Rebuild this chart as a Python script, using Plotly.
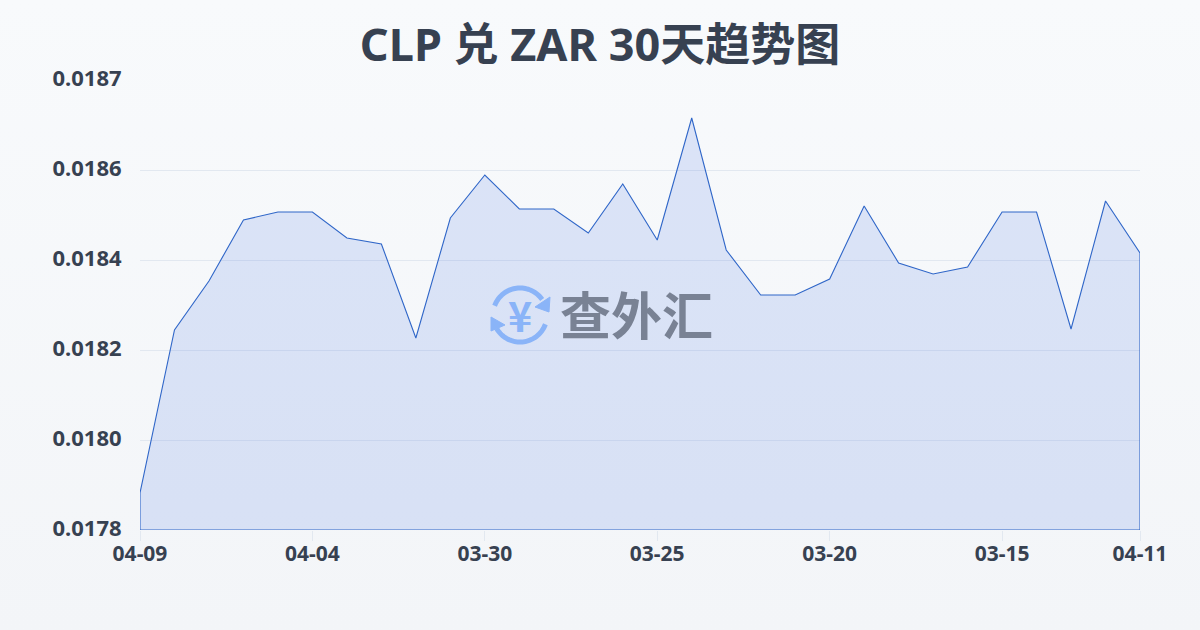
import math
import plotly.graph_objects as go

dates = ["04-09","04-08","04-07","04-06","04-05","04-04","04-03","04-02","04-01","03-31",
         "03-30","03-29","03-28","03-27","03-26","03-25","03-24","03-23","03-22","03-21",
         "03-20","03-19","03-18","03-17","03-16","03-15","03-14","03-13","03-12","04-11"]
rates = [0.017914,0.01824,0.018338,0.01846,0.018476,0.018476,0.018424,0.018412,0.018224,0.018464,
         0.01855,0.018482,0.018482,0.018434,0.018532,0.01842,0.018664,0.0184,0.01831,0.01831,
         0.018342,0.018488,0.018374,0.018352,0.018366,0.018476,0.018476,0.018242,0.018498,0.018394]
y_ticks = [0.01784,0.01802,0.0182,0.01838,0.01856,0.01874]
y_labels = ["0.0178","0.0180","0.0182","0.0184","0.0186","0.0187"]
x_tick_idx = [0,5,10,15,20,25,29]
title_text = "CLP 兑 ZAR 30天趋势图"
watermark = "查外汇"

W, H = 1200, 630
L, R, T, B = 140, 1140, 80, 530
FONT = "Noto Sans, Noto Sans CJK SC"
CJK = "Noto Sans CJK SC"
INK = "#374151"
BLUE = "#8ab4f8"

n = len(rates)
idx = list(range(n))
base = y_ticks[0]

fig = go.Figure(go.Scatter(
    x=[idx[0]] + idx + [idx[-1], idx[0]],
    y=[base] + rates + [base, base],
    mode="lines",
    fill="toself",
    fillcolor="rgba(51,102,224,0.14)",
    line=dict(color="#2f66c8", width=1.1),
    hoverinfo="skip",
))

# Plotly's "paper" is the plot area, so convert page pixels to it
def px(x): return (x - L) / (R - L)
def py(y): return (B - y) / (B - T)

def arc(cx, cy, r, a0, a1, steps=40):
    pts = []
    for i in range(steps + 1):
        a = math.radians(a0 + (a1 - a0) * i / steps)
        pts.append((cx + r * math.cos(a), cy + r * math.sin(a)))
    return pts

def path(pts, close=False):
    s = "M" + " L".join(f"{px(x):.5f},{py(y):.5f}" for x, y in pts)
    return s + (" Z" if close else "")

shapes = []
for pts, close in [
    (arc(520, 315, 27, 200, 325), False),
    (arc(520, 315, 27, 20, 150), False),
    ([(550, 297), (549, 312), (535, 307)], True),
    ([(491, 317), (491, 331), (505, 325)], True),
]:
    shapes.append(dict(
        type="path", xref="paper", yref="paper", path=path(pts, close),
        line=dict(color=BLUE, width=5 if not close else 1),
        fillcolor=BLUE if close else "rgba(0,0,0,0)", layer="above",
    ))

fig.update_layout(
    width=W, height=H,
    margin=dict(l=L, r=W - R, t=T, b=H - B, pad=0),
    paper_bgcolor="rgba(0,0,0,0)", plot_bgcolor="rgba(0,0,0,0)",
    showlegend=False,
    font=dict(family=FONT, color=INK),
    title=dict(text=title_text, x=0.5, xanchor="center", xref="container", y=1 - 45 / H, yanchor="middle",
               font=dict(family=FONT, size=45, color=INK, weight=700)),
    xaxis=dict(range=[idx[0], idx[-1]], tickmode="array", tickvals=x_tick_idx,
               ticktext=[dates[i] for i in x_tick_idx], showgrid=False, zeroline=False,
               ticks="outside", ticklen=10, tickcolor="#e2e8f0", tickwidth=1, ticklabelstandoff=-5,
               showline=False, tickfont=dict(family=FONT, size=21, color=INK, weight=700)),
    yaxis=dict(range=[y_ticks[0], y_ticks[-1]], tickmode="array", tickvals=y_ticks,
               ticktext=y_labels, showgrid=True, gridcolor="#e2e8f0", gridwidth=1, zeroline=False,
               ticks="outside", ticklen=13, tickcolor="rgba(0,0,0,0)", showline=False, ticklabelshift=-2,
               tickfont=dict(family=FONT, size=22, color=INK, weight=700)),
    shapes=shapes,
    annotations=[
        dict(text=watermark, xref="paper", yref="paper", x=px(636), y=py(313), xanchor="center", yanchor="middle",
             showarrow=False, font=dict(family=CJK, size=51, color="#798294", weight=700)),
        dict(text="¥", xref="paper", yref="paper", x=px(520), y=py(314), xanchor="center", yanchor="middle",
             showarrow=False, font=dict(family=CJK, size=41, color=BLUE, weight=700)),
    ],
)

css = ("document.documentElement.style.height='100%';"
       "document.body.style.margin='0';document.body.style.overflow='hidden';"
       "document.body.style.height='100%';"
       "document.body.style.background='linear-gradient(180deg,#f8fafc 0%,#f3f5f8 100%)';")
fig.write_html("out.html", post_script=css, config={"displayModeBar": False})
